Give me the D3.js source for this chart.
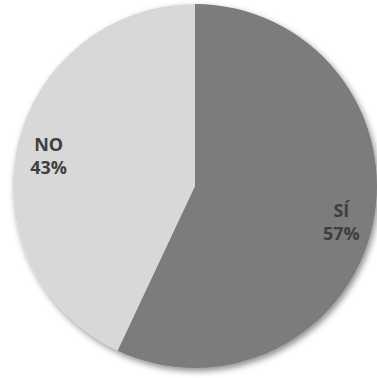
<!DOCTYPE html>
<html>
<head>
<meta charset="utf-8">
<script src="https://cdn.jsdelivr.net/npm/d3@7"></script>
<style>
  html, body { margin: 0; padding: 0; background: #ffffff; }
  svg { display: block; }
</style>
</head>
<body>
<svg id="chart" width="377" height="378"></svg>
<script>
// Survey answers and their shares (percent)
const categories = ["SÍ", "NO"];
const values = [57, 43];
const colors = ["#7b7b7b", "#d8d8d8"];

const width = 377, height = 378;
const cx = 195, cy = 186, radius = 182;

const svg = d3.select("#chart");

// soft shadow under the pie
const defs = svg.append("defs");
const filter = defs.append("filter")
  .attr("id", "pieShadow")
  .attr("x", "-10%").attr("y", "-10%")
  .attr("width", "120%").attr("height", "120%");
filter.append("feDropShadow")
  .attr("dx", 2).attr("dy", 3)
  .attr("stdDeviation", 3)
  .attr("flood-color", "#000")
  .attr("flood-opacity", 0.45);

const data = categories.map((c, i) => ({ label: c, value: values[i], color: colors[i] }));

const pie = d3.pie()
  .sort(null)
  .value(d => d.value);

const arc = d3.arc().innerRadius(0).outerRadius(radius);
const labelArc = d3.arc().innerRadius(150).outerRadius(150);

const g = svg.append("g").attr("transform", `translate(${cx},${cy})`);

const arcs = pie(data);

g.append("g")
  .attr("filter", "url(#pieShadow)")
  .selectAll("path")
  .data(arcs)
  .join("path")
  .attr("d", arc)
  .attr("fill", d => d.data.color);

const labels = g.selectAll("text.lbl")
  .data(arcs)
  .join("text")
  .attr("class", "lbl")
  .attr("text-anchor", "middle")
  .attr("font-family", "'Open Sans', sans-serif")
  .attr("font-weight", "bold")
  .attr("font-size", 18)
  .attr("fill", "#3f3f3f")
  .attr("transform", d => {
    const [x, y] = labelArc.centroid(d);
    return `translate(${x},${y})`;
  });

labels.append("tspan")
  .attr("x", 0)
  .attr("y", -2)
  .text(d => d.data.label);

labels.append("tspan")
  .attr("x", 0)
  .attr("y", 21)
  .text(d => d.data.value + "%");
</script>
</body>
</html>
